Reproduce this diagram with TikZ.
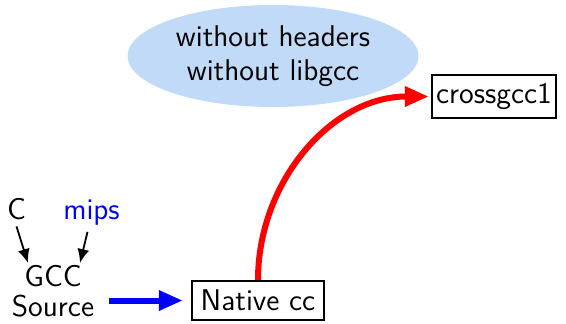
\documentclass[tikz,border=0pt]{standalone}
\usepackage{tikz}
\usepackage{xcolor}
\usetikzlibrary{arrows.meta,positioning,shapes.geometric}
\definecolor{cloudbg}{HTML}{C0DAF8}
\definecolor{ink}{HTML}{000000}

\begin{document}
\begin{tikzpicture}[x=0.5pt,y=-0.5pt,
  font=\sffamily\fontsize{15}{17}\selectfont,
  stagebox/.style={draw=ink,line width=1.1pt,inner sep=0pt},
  thin arrow/.style={-{Latex[length=7pt,width=6pt]},line width=0.9pt},
  fat arrow/.style={-{Triangle[length=12pt,width=9.5pt]},line width=3pt}]
 \useasboundingbox (0,0) rectangle (566,323);
 % note cloud
 \node[ellipse,fill=cloudbg,inner sep=0pt,minimum width=145.5pt,minimum height=51pt,
       align=center] (cloud) at (273,56) {without headers\\without libgcc};
 % stages
 \node[stagebox,minimum width=62pt,minimum height=21.5pt] (cross) at (494,96.5) {crossgcc1};
 \node[stagebox,minimum width=66pt,minimum height=19.5pt] (native) at (258,300.5) {Native cc};
 % sources
 \node[anchor=base] (c) at (16.5,219) {C};
 \node[anchor=base,text=blue] (mips) at (91.5,219) {mips};
 \node[align=center] (gcc) at (53,291) {GCC\\[-2pt]Source};
 \draw[thin arrow] (c.south) -- ([xshift=-12.5pt,yshift=-2.5pt]gcc.north);
 \draw[thin arrow] ([xshift=-2pt]mips.south) -- ([xshift=13.5pt,yshift=-2.5pt]gcc.north);
 \draw[fat arrow,blue,shorten <=4pt,shorten >=4pt] (gcc.east |- native.west) -- (native.west);
 \draw[fat arrow,red,shorten >=1pt] (native.north) to[out=90,in=180] (cross.west);
\end{tikzpicture}
\end{document}
